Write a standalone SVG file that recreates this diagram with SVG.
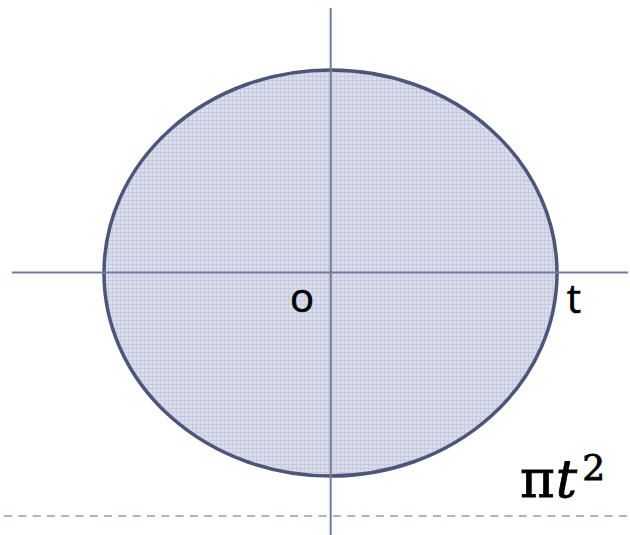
<svg xmlns="http://www.w3.org/2000/svg" width="630" height="535" viewBox="0 0 630 535">
  <defs>
    <pattern id="dots" width="4" height="4" patternUnits="userSpaceOnUse">
      <rect width="4" height="4" fill="#dadded"/>
      <rect x="0" y="0" width="1" height="4" fill="#c6cadc"/>
      <rect x="0" y="0" width="4" height="1" fill="#c6cadc"/>
    </pattern>
  </defs>
  <style>
    .axis { stroke: #727aa0; stroke-width: 2; fill: none; }
    .lbl { font-family: "Open Sans", "Liberation Sans", Arial, sans-serif; font-size: 40px; fill: #000; stroke: #000; stroke-width: 0.6; }
    .math { font-family: "DejaVu Serif", "Liberation Serif", serif; fill: #000; stroke: #000; stroke-width: 0.8; }
  </style>
  <rect width="630" height="535" fill="#ffffff"/>
  <g id="disk">
    <ellipse cx="330.5" cy="273" rx="226.5" ry="203" fill="url(#dots)" stroke="#4d5678" stroke-width="3.5"/>
  </g>
  <g id="connectors">
    <line class="axis" x1="12" y1="272.5" x2="628" y2="272.5"/>
    <line class="axis" x1="330.7" y1="8" x2="330.7" y2="535"/>
    <line x1="4" y1="516" x2="630" y2="516" stroke="#a3b8d0" stroke-width="2" stroke-dasharray="8 6.3"/>
  </g>
  <g id="label-o"><text class="lbl" x="302" y="312" text-anchor="middle">o</text></g>
  <g id="label-t"><text class="lbl" x="574" y="313" text-anchor="middle">t</text></g>
  <g id="label-area">
    <text class="math" x="520" y="497" font-size="53">π<tspan font-style="italic" dx="1">t</tspan><tspan font-size="36" dy="-17" dx="5">2</tspan></text>
  </g>
</svg>
